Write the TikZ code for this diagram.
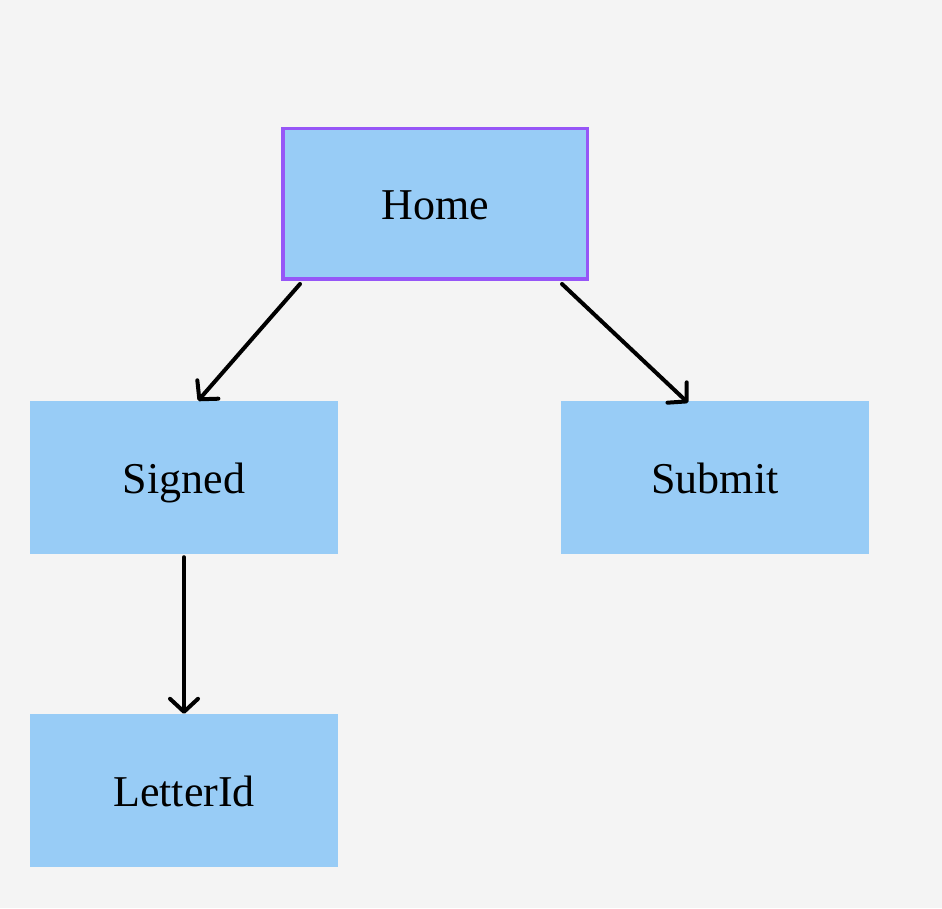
\documentclass[tikz,border=0pt]{standalone}
\usepackage{fontspec}
\setmainfont{Liberation Serif}
\usetikzlibrary{arrows.meta}
\definecolor{pagebg}{HTML}{F4F4F4}
\definecolor{boxblue}{HTML}{98CCF6}
\definecolor{homeline}{HTML}{9656F7}
\tikzset{
    box/.style={rectangle, fill=boxblue, minimum width=308pt, minimum height=153pt,
    	inner sep=0pt, text height=40pt, text depth=8pt, font=\fontsize{44}{52}\selectfont},
    link/.style={line width=4pt, line cap=round,
    	-{Straight Barb[length=13pt, width=28pt, line width=4pt, round]}}
}

\begin{document}
\begin{tikzpicture}[x=1pt, y=1pt]
  \fill[pagebg] (0,0) rectangle (942,908);
  \useasboundingbox (0,0) rectangle (942,908);

  \node (home) [box, draw=homeline, line width=3.5pt, minimum width=304.5pt, minimum height=150.5pt] at (435, 704) {Home};
  \node (signed) [box] at (184, 430.5) {Signed};
  \node (submit) [box] at (715, 430.5) {Submit};
  \node (letter) [box] at (184, 117.5) {LetterId};

  \draw[link] ([xshift=19pt, yshift=-3pt]home.south west) -- ([xshift=14pt]signed.north);
  \draw[link] ([xshift=-27pt, yshift=-3pt]home.south east) -- ([xshift=-27pt, yshift=-2pt]submit.north);
  \draw[link] ([yshift=-3pt]signed.south) -- (letter.north);
\end{tikzpicture}
\end{document}
